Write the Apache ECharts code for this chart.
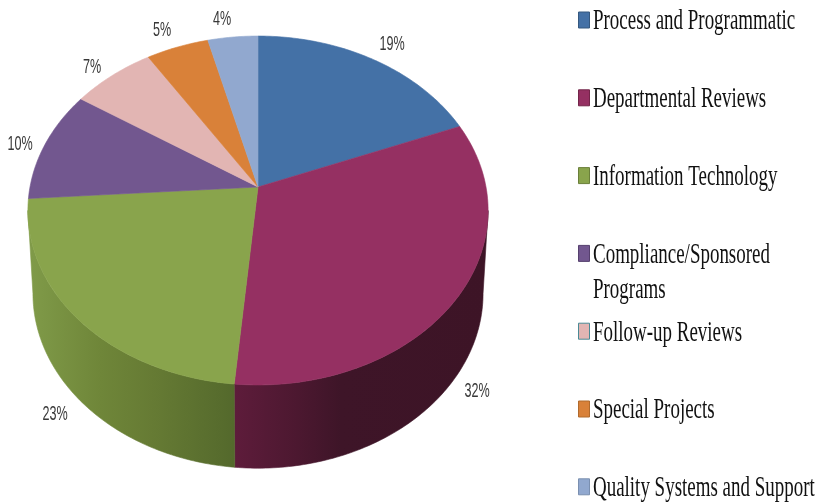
<!DOCTYPE html>
<html>
<head>
<meta charset="utf-8">
<style>html,body{margin:0;padding:0;background:#fff}#main{width:817px;height:504px}</style>
<script src="https://cdn.jsdelivr.net/npm/echarts@6/dist/echarts.min.js"></script>
</head>
<body>
<div id="main"></div>
<script>
// slice values (the labels round them)
var categories = ['Process and Programmatic', 'Departmental Reviews', 'Information Technology',
    'Compliance/Sponsored\nPrograms', 'Follow-up Reviews', 'Special Projects', 'Quality Systems and Support'];
var values = [18.95, 32.49, 22.5, 10.36, 6.7, 5, 4];
var colors = ['#4471A6', '#953062', '#89A44C', '#72578F', '#E2B5B3', '#D98139', '#91A8CF'];
var swatchBorders = ['#35587f', '#732549', '#6a7f3a', '#56406e', '#4a8a95', '#b06a2d', '#7a8fb0'];
var labelAnchors = [[392, 44], [477, 391], [55, 414], [20, 144], [92, 67], [162, 30], [222, 19]];

var myChart = echarts.init(document.getElementById('main'));

// the disc is a circle under perspective, so the hub is not the centre of the ellipse
var K = 0.1347;
function project(t, level) {
    var s = Math.sin(t), c = Math.cos(t), d = 1 + K * c;
    if (level === 'top') return [258 + 228 * s / d, 187 - 171.3 * c / d];
    return [258 + 223 * s / d, 270 - 171.5 * c / d];
}
// where the rim turns away from the viewer, the wall is only visible between these
var SIL0 = Math.acos(-K), SIL1 = Math.PI * 2 - SIL0;

var total = values.reduce(function (a, b) { return a + b; }, 0);
function sliceAngles(i) {
    var before = 0;
    for (var j = 0; j < i; j++) before += values[j];
    return [before / total * Math.PI * 2, (before + values[i]) / total * Math.PI * 2];
}
function rim(a0, a1, level) {
    var pts = [], n = Math.max(2, Math.ceil((a1 - a0) / 0.015));
    for (var i = 0; i <= n; i++) pts.push(project(a0 + (a1 - a0) * i / n, level));
    return pts;
}

var wallFills = {
    1: new echarts.graphic.LinearGradient(234, 0, 488, 0, [
        {offset: 0, color: '#5e1c3b'}, {offset: 0.25, color: '#4c1830'},
        {offset: 0.42, color: '#3e1528'}, {offset: 1, color: '#3d1426'}], true),
    2: new echarts.graphic.LinearGradient(28, 0, 234, 0, [
        {offset: 0, color: '#809B49'}, {offset: 0.35, color: '#6f8639'},
        {offset: 0.6, color: '#667b34'}, {offset: 1, color: '#54692c'}], true)
};

function renderWall(params) {
    var i = params.dataIndex;
    var a = sliceAngles(i);
    var a0 = Math.max(a[0], SIL0), a1 = Math.min(a[1], SIL1);
    if (a1 <= a0) return {type: 'group', children: []};
    var pts = rim(a0, a1, 'top').concat(rim(a0, a1, 'bottom').reverse());
    return {
        type: 'polygon',
        shape: {points: pts},
        style: {fill: wallFills[i] || colors[i], stroke: wallFills[i] || colors[i], lineWidth: 0.6}
    };
}

function renderTop(params) {
    var i = params.dataIndex;
    var a = sliceAngles(i);
    var pts = [[258, 187]].concat(rim(a[0], a[1], 'top'));
    return {
        type: 'polygon',
        shape: {points: pts},
        style: {fill: colors[i], stroke: colors[i], lineWidth: 0.6}
    };
}

function renderLabel(params) {
    var i = params.dataIndex;
    return {
        type: 'text',
        x: labelAnchors[i][0],
        y: labelAnchors[i][1],
        scaleX: 0.6,
        style: {
            text: Math.round(values[i]) + '%',
            font: '21px "Liberation Sans"',
            fill: '#383838',
            align: 'center',
            verticalAlign: 'middle'
        }
    };
}

function renderLegend(params) {
    var i = params.dataIndex;
    var y = 20 + i * 77.8;
    var lines = categories[i].split('\n');
    var children = [{
        type: 'rect',
        shape: {x: 578.5, y: y - 8, width: 11, height: 16},
        style: {fill: colors[i], stroke: swatchBorders[i], lineWidth: 1}
    }];
    lines.forEach(function (line, k) {
        children.push({
            type: 'text',
            x: 593,
            y: y + 1.5 + k * 35,
            scaleX: 0.632,
            style: {
                text: line,
                font: '30px "Liberation Serif"',
                fill: '#111',
                align: 'left',
                verticalAlign: 'middle'
            }
        });
    });
    return {type: 'group', children: children};
}

function layer(name, fn) {
    return {
        type: 'custom',
        name: name,
        coordinateSystem: 'none',
        renderItem: fn,
        silent: true,
        animation: false,
        data: values
    };
}

option = {
    backgroundColor: '#fff',
    animation: false,
    series: [
        layer('walls', renderWall),
        layer('tops', renderTop),
        layer('labels', renderLabel),
        layer('legend', renderLegend)
    ]
};
myChart.setOption(option);
</script>
</body>
</html>
